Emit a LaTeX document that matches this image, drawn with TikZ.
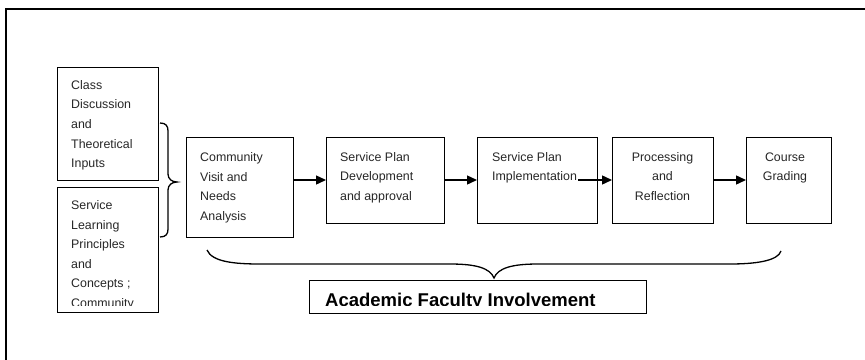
\documentclass[tikz,border=0pt]{standalone}
\usepackage{fontspec}
\setmainfont{Liberation Sans}
\usetikzlibrary{arrows.meta}
\newcommand\ltext[1]{\vtop{\halign{##\hfil\cr#1\crcr}}}
\newcommand\ctext[1]{\vtop{\halign{\hfil##\hfil\cr#1\crcr}}}
\tikzset{
  box/.style={draw=black, line width=1.4pt, rectangle, inner sep=0pt, anchor=north west},
  txt/.style={inner sep=0pt, anchor=base west, text=black!85, font=\fontsize{12.4}{19.6}\selectfont},
  ctxt/.style={inner sep=0pt, anchor=base, text=black!85, font=\fontsize{12.4}{19.6}\selectfont},
  flow/.style={line width=1.4pt, -{Triangle[length=10pt,width=9pt]}},
  brace/.style={line width=1.3pt},
}
\begin{document}
\begin{tikzpicture}[x=1pt,y=-1pt]
\path[use as bounding box] (0,0) rectangle (865,359);
% frame
\draw[line width=2pt] (6,360) -- (6,8.5) -- (866,8.5);
% boxes
\node[box, minimum width=101pt, minimum height=113pt] (b1) at (57,67) {};
\node[box, minimum width=101pt, minimum height=125pt] (b2) at (57,187) {};
\node[box, minimum width=107pt, minimum height=100pt] (c) at (186,137) {};
\node[box, minimum width=118pt, minimum height=86pt] (d) at (326,137) {};
\node[box, minimum width=120pt, minimum height=86pt] (e) at (477,137) {};
\node[box, minimum width=101pt, minimum height=86pt] (f) at (612,137) {};
\node[box, minimum width=85pt, minimum height=86pt] (g) at (746,137) {};
\node[box, minimum width=337pt, minimum height=33pt] (a) at (309,280) {};
% texts
\node[txt] (t1) at (71,89.3) {\ltext{Class\cr Discussion\cr and\cr Theoretical\cr Inputs}};
\begin{scope}
\clip (57,187) rectangle (158,305);
\node[txt] (t2) at (71,209.5) {\ltext{Service\cr Learning\cr Principles\cr and\cr Concepts ;\cr Community}};
\end{scope}
\node[txt] (tc) at (200,161.5) {\ltext{Community\cr Visit and\cr Needs\cr Analysis}};
\node[txt] (td) at (340,161) {\ltext{Service Plan\cr Development\cr and approval}};
\node[txt] (te) at (492,161) {\ltext{Service Plan\cr Implementation}};
\node[ctxt] (tf) at (662.5,161) {\ctext{Processing\cr and\cr Reflection}};
\node[ctxt] (tg) at (785,161) {\ctext{Course\cr Grading}};
\begin{scope}
\clip (309,280) rectangle (646,305.5);
\node[inner sep=0pt, anchor=base west, font=\fontsize{18.5}{20}\selectfont\bfseries] (ta) at (325,306.5) {Academic Faculty Involvement};
\end{scope}
% arrows
\coordinate (eout) at (578,180);
\draw[flow] (c.east |- 0,180) -- (d.west |- 0,180);
\draw[flow] (d.east |- 0,180) -- (e.west |- 0,180);
\draw[flow] (eout) -- (f.west |- 0,180);
\draw[flow] (f.east |- 0,180) -- (g.west |- 0,180);
% braces
\draw[brace] (160,123) .. controls (166,123) and (168,126) .. (168,131) -- (168,174)
  .. controls (168,179) and (172,182) .. (177,182)
  .. controls (172,182) and (168,185) .. (168,190) -- (168,229)
  .. controls (168,234) and (166,237) .. (160,237);
\draw[brace] (207,250) .. controls (212,262) and (235,264) .. (260,264) -- (450,264)
  .. controls (476,264) and (490,268) .. (494,278)
  .. controls (498,268) and (512,264) .. (538,264) -- (730,264)
  .. controls (755,264) and (778,261) .. (781,251);
\end{tikzpicture}
\end{document}
